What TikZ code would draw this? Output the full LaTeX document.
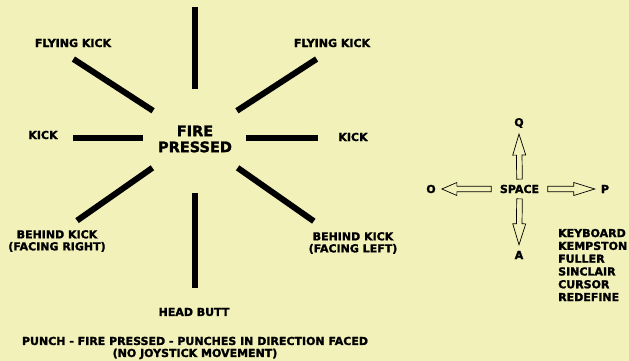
\documentclass[tikz,border=0pt]{standalone}
\usepackage{fontspec}
\setsansfont{DejaVu Sans}[BoldFeatures={FakeBold=1.6}]
\usetikzlibrary{calc}
\definecolor{paper}{HTML}{F1F1B9}

\tikzset{
  headlen/.store in=\headlen, headlen=21pt,
  % hollow block arrow between two points
  blockarrow/.style={draw, line width=0.7pt, line join=miter, to path={
      ($(\tikztostart)!2.8pt!90:(\tikztotarget)$)
      -- ($($(\tikztotarget)!\headlen!(\tikztostart)$)!2.8pt!90:(\tikztotarget)$)
      -- ($($(\tikztotarget)!\headlen!(\tikztostart)$)!6.5pt!90:(\tikztotarget)$)
      -- (\tikztotarget)
      -- ($($(\tikztotarget)!\headlen!(\tikztostart)$)!6.5pt!-90:(\tikztotarget)$)
      -- ($($(\tikztotarget)!\headlen!(\tikztostart)$)!2.8pt!-90:(\tikztotarget)$)
      -- ($(\tikztostart)!2.8pt!-90:(\tikztotarget)$) -- cycle}}
}

\begin{document}
\begin{tikzpicture}[x=1pt, y=-1pt, font=\sffamily\bfseries\fontsize{11}{12}\selectfont,
    lbl/.style={inner sep=0pt, align=center},
    key/.style={inner sep=6pt},
    spoke/.style={line width=6pt}]
  \fill[paper] (0,0) rectangle (629,361);
  \useasboundingbox (0,0) rectangle (629,361);

  % joystick moves
  \node[lbl, font=\sffamily\bfseries\fontsize{14.5}{16}\selectfont] (fire) at (195,139) {FIRE\\PRESSED};
  \coordinate (hub) at (195,138);
  \foreach \a/\r/\R in {270/49/131, 213/50/145, 327/50/145, 180/52/122,
                        0/51/123, 145/52/144, 35/52/145, 90/55/150}
    \draw[spoke] ([shift={(\a:\r)}]hub) -- ([shift={(\a:\R)}]hub);

  \node[lbl] (flyl) at (73,43) {FLYING KICK};
  \node[lbl] (flyr) at (332,43) {FLYING KICK};
  \node[lbl] (kickl) at (43,135) {KICK};
  \node[lbl] (kickr) at (353,137) {KICK};
  \node[lbl] (behl) at (57,241) {BEHIND KICK\\(FACING RIGHT)};
  \node[lbl] (behr) at (353,243) {BEHIND KICK\\(FACING LEFT)};
  \node[lbl] (head) at (194,312) {HEAD BUTT};
  \node[lbl] (punch) at (195,348) {PUNCH - FIRE PRESSED - PUNCHES IN DIRECTION FACED\\(NO JOYSTICK MOVEMENT)};

  % keys
  \node[inner xsep=8.5pt, inner ysep=5.5pt] (sp) at (519.5,189) {SPACE};
  \node[key] (q) at (519,123) {Q};
  \node[key] (a) at (519,255) {A};
  \node[key] (o) at (431,189) {O};
  \node[key] (p) at (605,189) {P};
  \draw[blockarrow] (sp.north) to (q.south);
  \draw[blockarrow] (sp.south) to (a.north);
  \draw[blockarrow, headlen=15pt] (sp.west) to (o.east);
  \draw[blockarrow] (sp.east) to (p.west);

  \node[lbl, align=left, anchor=west, font=\sffamily\bfseries\fontsize{11}{12.8}\selectfont] (ctrl) at (558,265)
    {KEYBOARD\\KEMPSTON\\FULLER\\SINCLAIR\\CURSOR\\REDEFINE};
\end{tikzpicture}
\end{document}
